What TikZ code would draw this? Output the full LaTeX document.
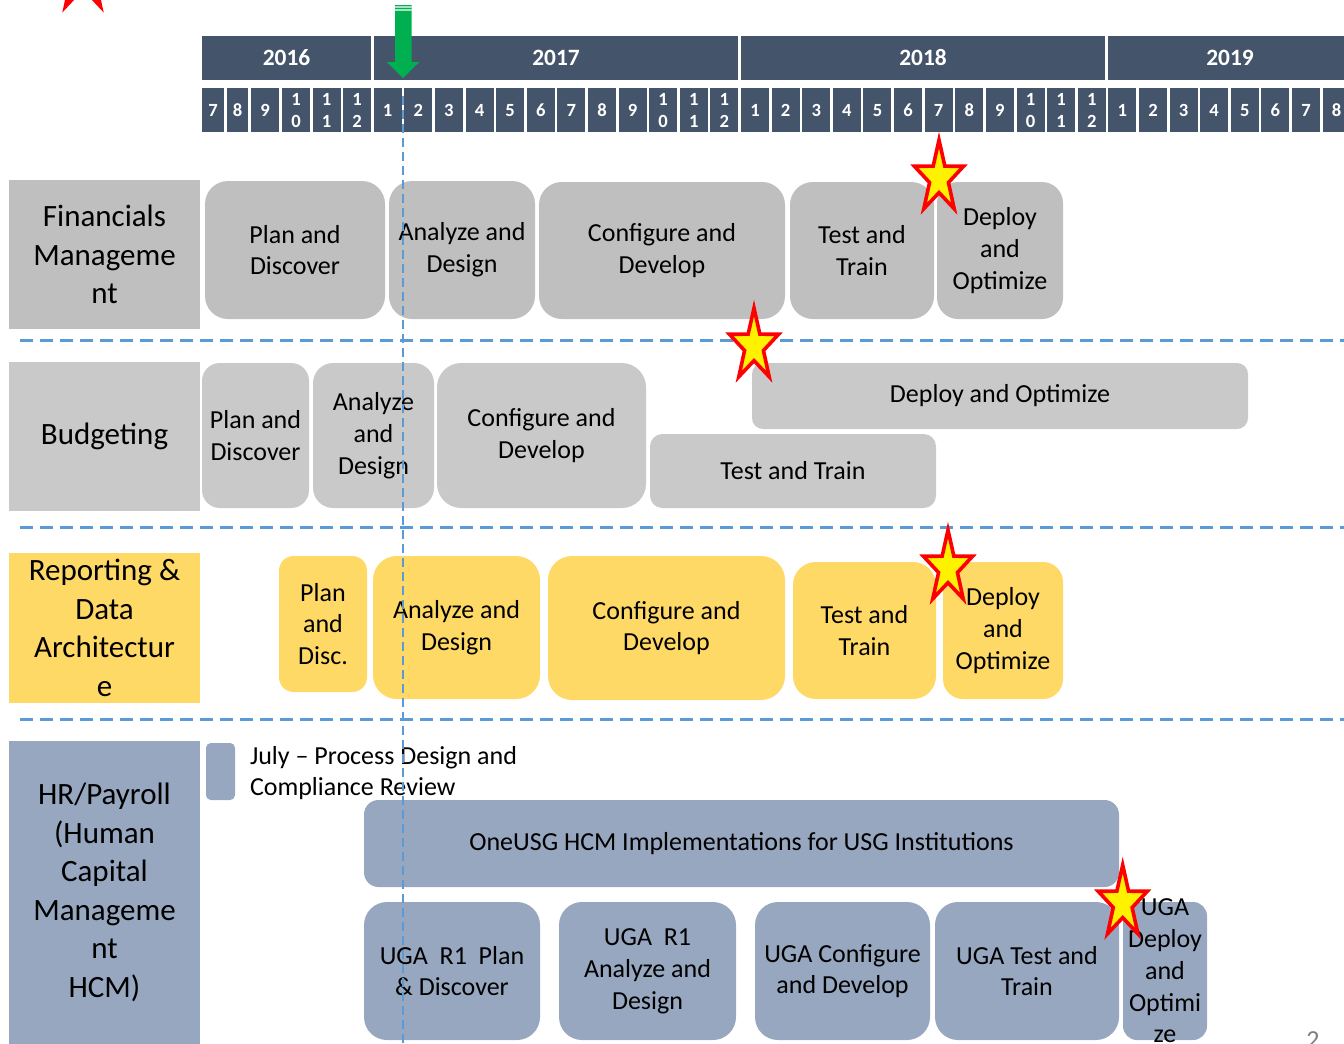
\documentclass[tikz,border=0pt]{standalone}
\usepackage{fontspec}
\setmainfont{Carlito}
\usetikzlibrary{positioning,shapes.geometric}
\usepackage{xcolor}

\definecolor{hdrblue}{HTML}{44546A}
\definecolor{fingray}{HTML}{BFBFBF}
\definecolor{budgray}{HTML}{C9C9C9}
\definecolor{repyellow}{HTML}{FFD966}
\definecolor{hrblue}{HTML}{97A7C0}
\definecolor{sepblue}{HTML}{5B9BD5}
\definecolor{arrowgreen}{HTML}{00B050}

\begin{document}
\begin{tikzpicture}[x=0.5pt, y=-0.5pt,
  every node/.style={inner sep=0pt, outer sep=0pt},
  yearbar/.style={fill=hdrblue, text=white, font=\bfseries\fontsize{11.7}{14}\selectfont},
  monthcell/.style={fill=hdrblue, text=white, align=center, font=\bfseries\fontsize{9.3}{11}\selectfont},
  rowlabel/.style={align=center, font=\fontsize{15.5}{19.25}\selectfont},
  phase/.style={align=center, font=\fontsize{13}{15.9}\selectfont},
  rowsep/.style={sepblue, line width=1.5pt, dash pattern=on 6.7pt off 3.3pt},
  nowline/.style={sepblue, line width=1pt, dash pattern=on 4.5pt off 2.5pt},
  milestone/.style={star, star points=5, star point ratio=2.6, minimum size=38pt,
    fill=yellow, draw=red, line width=1.8pt}]
% Month cell top/bottom (in pixels)
\def\mtop{88.3}
\def\mbot{132.3}

% Page frame
\useasboundingbox (0,0) rectangle (1344,1044);
\clip (0,0) rectangle (1344,1044);

% Years
\foreach \xa/\xb/\yr in {202/371/2016, 374/738/2017, 741/1105/2018, 1108/1352/2019} {
  \pgfmathsetmacro\w{(\xb-\xa)/2}
  \node[yearbar, minimum width=\w pt, minimum height=22pt] (y\yr) at ({(\xa+\xb)/2},58) {\yr};
}

% Months of 2016 (uneven widths)
\foreach \xa/\xb/\m [count=\i] in {202/224/7, 226.7/248.3/8, 251/279.3/9, 282/310/{1\\0}, 312.7/340.7/{1\\1}, 343.3/371/{1\\2}} {
  \pgfmathsetmacro\w{(\xb-\xa)/2}
  \node[monthcell, minimum width=\w pt, minimum height=22pt] (m2016-\i) at ({(\xa+\xb)/2},{(\mtop+\mbot)/2}) {\m};
}

% Months of 2017 to 2019
\foreach \yr [count=\j from 0] in {2017,2018,2019} {
  \foreach \m/\lbl in {1/1,2/2,3/3,4/4,5/5,6/6,7/7,8/8,9/9,10/{1\\0},11/{1\\1},12/{1\\2}} {
    \pgfmathsetmacro\xa{373.7+30.61*(12*\j+\m-1)}
    \node[monthcell, minimum width=14pt, minimum height=22pt] (m\yr-\m) at ({\xa+14},{(\mtop+\mbot)/2}) {\lbl};
  }
}

% Green "now" arrow
\fill[arrowgreen] (395,5) -- (411.7,5) -- (411.7,62) -- (419.3,62) -- (403,78) -- (386.7,62) -- (395,62) -- cycle;
\foreach \yy in {7,10} \draw[arrowgreen!35!white, line width=0.6pt] (395,\yy) -- (411.7,\yy);

% Row labels
\foreach \name/\ya/\yb/\col/\txt in {
  finlbl/180/329/fingray/{Financials\\Manageme\\nt},
  budlbl/362/511/budgray/{Budgeting},
  replbl/553/703/repyellow/{Reporting \&\\Data\\Architectur\\e},
  hrlbl/741/1044/hrblue/{HR/Payroll\\(Human\\Capital\\Manageme\\nt\\HCM)}} {
  \pgfmathsetmacro\h{(\yb-\ya)/2}
  \node[rowlabel, fill=\col, minimum width=95.5pt, minimum height=\h pt] (\name) at (104.5,{(\ya+\yb)/2}) {\txt};
}

% Phases
\foreach \name/\xa/\ya/\xb/\yb/\col/\txt in {
  fin1/205/181/385/319/fingray/{Plan and\\Discover},
  fin2/389/181/535/319/fingray/{Analyze and\\Design},
  fin3/539/182/785/319/fingray/{Configure and\\Develop},
  fin4/790/182/934/319/fingray/{Test and\\Train},
  fin5/937/182/1063/319/fingray/{Deploy\\and\\Optimize},
  bud1/202/363/309/508/budgray/{Plan and\\Discover},
  bud2/313/363/434/508/budgray/{Analyze\\and\\Design},
  bud3/437/363/646/508/budgray/{Configure and\\Develop},
  bud4/650/434/936/508/budgray/{Test and Train},
  bud5/752/363/1248/429/budgray/{Deploy and Optimize},
  rep1/279/556/367/692/repyellow/{Plan\\and\\Disc.},
  rep2/373/556/540/699/repyellow/{Analyze and\\Design},
  rep3/548/556/785/700/repyellow/{Configure and\\Develop},
  rep4/793/562/936/699/repyellow/{Test and\\Train},
  rep5/943/562/1063/699/repyellow/{Deploy\\and\\Optimize},
  hr0/364/800/1119/887/hrblue/{OneUSG HCM Implementations for USG Institutions},
  hr1/364/902/540/1040/hrblue/{UGA\ \ R1\ \ Plan\\\& Discover},
  hr2/559/902/736/1040/hrblue/{UGA\ \ R1\\Analyze and\\Design},
  hr3/755/902/930/1040/hrblue/{UGA Configure\\and Develop},
  hr4/935/902/1119/1040/hrblue/{UGA Test and\\Train},
  hr5/1123/902/1207/1040/hrblue/{}} {
  \pgfmathsetmacro\rad{min(\xb-\xa,\yb-\ya)/12}
  \pgfmathsetmacro\w{(\xb-\xa)/2}
  \pgfmathsetmacro\h{(\yb-\ya)/2}
  \node[phase, fill=\col, rounded corners=\rad pt, minimum width=\w pt, minimum height=\h pt]
    (\name) at ({(\xa+\xb)/2},{(\ya+\yb)/2}) {\txt};
}
% text runs out of the last box
\node[phase] (hr5txt) at (hr5.center) {UGA\\Deploy\\and\\Optimi\\ze};

% Legend
\node[fill=hrblue, rounded corners=2.4pt, minimum width=14.5pt, minimum height=28.5pt] (legendbox) at (220.5,771.5) {};
\node[phase, anchor=west, align=left] (legendtxt) at (250,773) {July – Process Design and\\Compliance Review};

% Row separators and today line
\foreach \yy in {340,527,719} \draw[rowsep] (20,\yy) -- (1344,\yy);
\draw[nowline] (403,96) -- (403,1044);

% Milestones
\foreach \name/\cx/\cy in {star1/939/178, star2/754/346, star3/948/568, star4/1122.7/903} {
  \begin{scope}[shift={(\cx,\cy)}, xscale=0.68]
    \node[milestone, transform shape] (\name) at (0,0) {};
  \end{scope}
}
\begin{scope}[shift={(83,-29)}, xscale=0.68]
  \node[milestone, fill=red, minimum size=44pt, transform shape] (redstar) at (0,0) {};
\end{scope}

% Page number
\node[anchor=base, text=gray, font=\fontsize{13}{16}\selectfont] (pagenum) at (1313,1048) {2};
\end{tikzpicture}
\end{document}
